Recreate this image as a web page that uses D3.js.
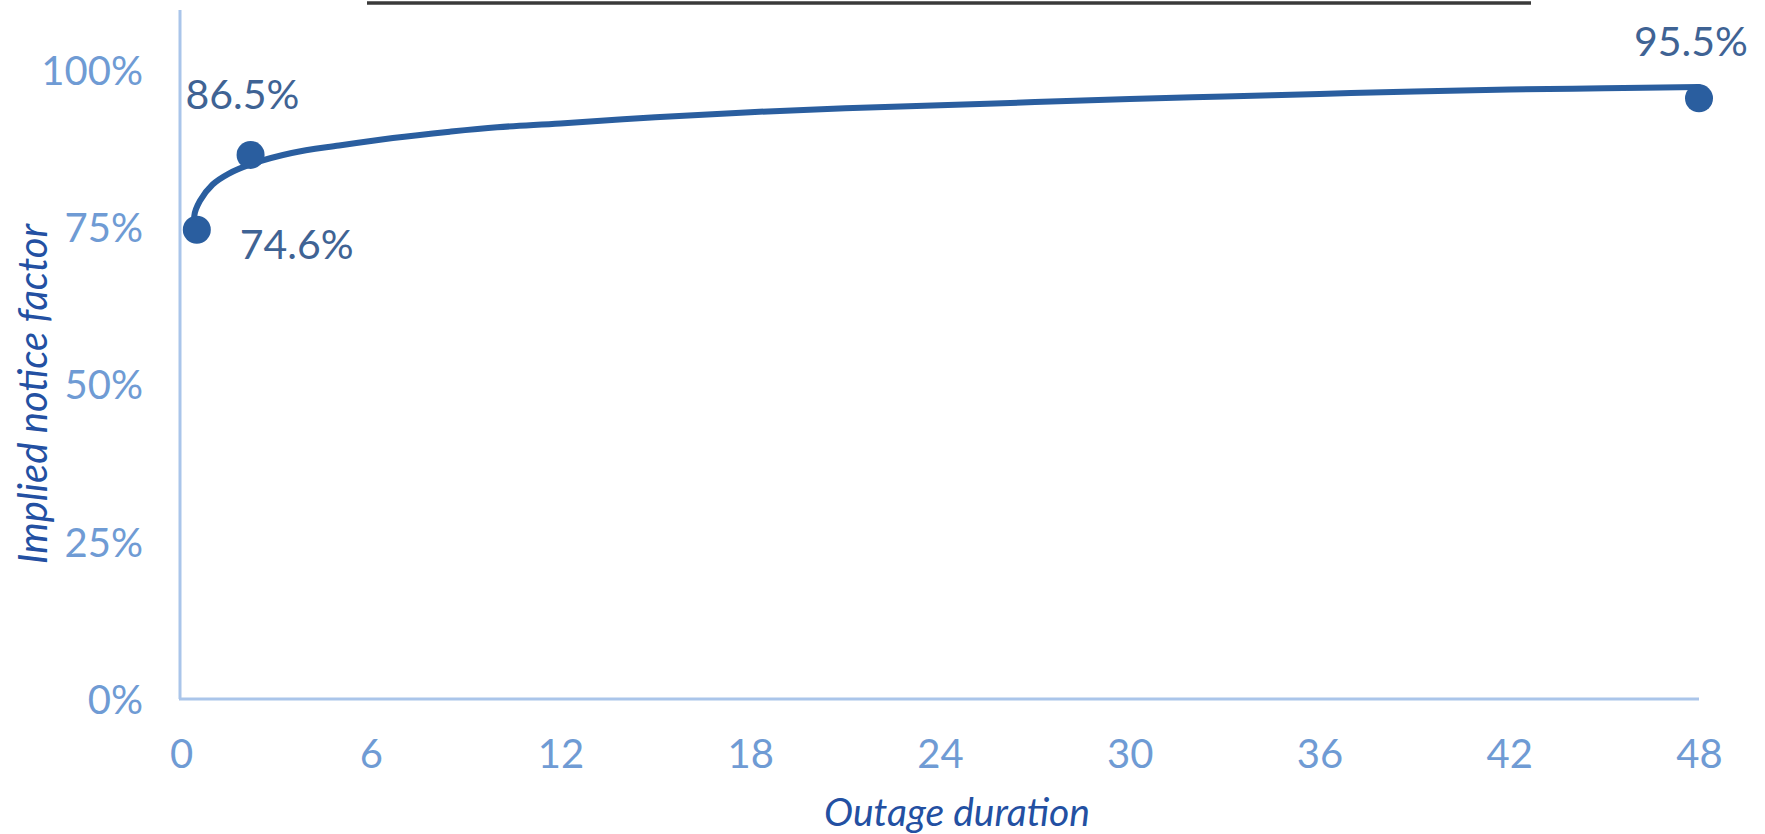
<!DOCTYPE html>
<html>
<head>
<meta charset="utf-8">
<script src="https://cdn.jsdelivr.net/npm/d3@7"></script>
<style>
  html, body { margin: 0; padding: 0; background: #ffffff; }
  svg { display: block; }
</style>
</head>
<body>
<svg id="chart" width="1765" height="834"></svg>
<script>
// Implied notice factor as a function of outage duration (hours)
const curveHours  = [0.5, 0.42, 0.6, 1.0, 1.5, 2.2, 3.5, 5.0, 6.7, 8.5, 10, 12, 15, 18, 21, 24, 27, 30, 33, 36, 39, 42, 45, 48];
const curveValues = [0.746, 0.768, 0.792, 0.818, 0.835, 0.850, 0.868, 0.880, 0.892, 0.902, 0.909, 0.915, 0.925, 0.933, 0.939, 0.944, 0.949, 0.954, 0.958, 0.962, 0.966, 0.969, 0.971, 0.973];

// Highlighted points with their labels
const pointHours  = [0.5, 2.2, 48];
const pointValues = [0.746, 0.865, 0.955];
const pointLabels = ["74.6%", "86.5%", "95.5%"];

// Axis ticks
const xTicks = [0, 6, 12, 18, 24, 30, 36, 42, 48];
const yTicks = [0, 0.25, 0.5, 0.75, 1.0];

const xTitle = "Outage duration";
const yTitle = "Implied notice factor";

const svg = d3.select("#chart");
const font = "Lato, 'Open Sans', sans-serif";

const x = d3.scaleLinear().domain([0, 48]).range([181, 1699]);
const y = d3.scaleLinear().domain([0, 1]).range([699, 70]);

const axisColor = "#aac5ea";
const tickColor = "#6f9bd4";
const seriesColor = "#2a5e9f";

// Cut-off underline of the heading above the plot
svg.append("line")
  .attr("x1", 367).attr("x2", 1531)
  .attr("y1", 3).attr("y2", 3)
  .attr("stroke", "#3a3a3a").attr("stroke-width", 3.5);

// Axis lines
svg.append("line")
  .attr("x1", x(0) - 1).attr("x2", x(0) - 1)
  .attr("y1", 10).attr("y2", y(0))
  .attr("stroke", axisColor).attr("stroke-width", 3);
svg.append("line")
  .attr("x1", x(0) - 2).attr("x2", x(48))
  .attr("y1", y(0)).attr("y2", y(0))
  .attr("stroke", axisColor).attr("stroke-width", 3);

// Y axis tick labels
const yAxis = d3.axisLeft(y).tickValues(yTicks).tickSize(0).tickPadding(0)
  .tickFormat(d3.format(".0%"));
const gy = svg.append("g").attr("transform", "translate(143,0)").call(yAxis);
gy.select(".domain").remove();
gy.selectAll("text")
  .attr("font-family", font).attr("font-size", 40)
  .attr("fill", tickColor).attr("dy", "0.36em");

// X axis tick labels
const xAxis = d3.axisBottom(x).tickValues(xTicks).tickSize(0).tickPadding(0)
  .tickFormat(d3.format("d"));
const gx = svg.append("g").attr("transform", "translate(0,754)").call(xAxis);
gx.select(".domain").remove();
gx.selectAll("text")
  .attr("font-family", font).attr("font-size", 40)
  .attr("fill", tickColor).attr("dy", "0.36em");

// Axis titles
svg.append("text")
  .attr("x", 957).attr("y", 826)
  .attr("text-anchor", "middle")
  .attr("font-family", font).attr("font-style", "italic").attr("font-size", 39)
  .attr("fill", "#2350a2")
  .text(xTitle);
svg.append("text")
  .attr("transform", "translate(47,394) rotate(-90)")
  .attr("text-anchor", "middle")
  .attr("font-family", font).attr("font-style", "italic").attr("font-size", 40)
  .attr("fill", "#2350a2")
  .text(yTitle);

// Fitted curve
const curveData = curveHours.map((h, i) => [h, curveValues[i]]);
svg.append("path")
  .datum(curveData)
  .attr("d", d3.line().x(d => x(d[0])).y(d => y(d[1])).curve(d3.curveCatmullRom.alpha(0.5)))
  .attr("fill", "none")
  .attr("stroke", seriesColor)
  .attr("stroke-width", 6)
  .attr("stroke-linecap", "round");

// Markers
const pts = pointHours.map((h, i) => ({ h, v: pointValues[i], label: pointLabels[i] }));
svg.selectAll("circle.pt")
  .data(pts).enter().append("circle")
  .attr("class", "pt")
  .attr("cx", d => x(d.h)).attr("cy", d => y(d.v))
  .attr("r", 14)
  .attr("fill", seriesColor);

// Point labels
const labelOffsets = [[43, 14], [-65, -61], [-65, -57]];
svg.selectAll("text.pt-label")
  .data(pts).enter().append("text")
  .attr("class", "pt-label")
  .attr("x", (d, i) => x(d.h) + labelOffsets[i][0])
  .attr("y", (d, i) => y(d.v) + labelOffsets[i][1])
  .attr("dy", "0.36em")
  .attr("font-family", font).attr("font-size", 41)
  .attr("fill", "#3f6394")
  .text(d => d.label);
</script>
</body>
</html>
